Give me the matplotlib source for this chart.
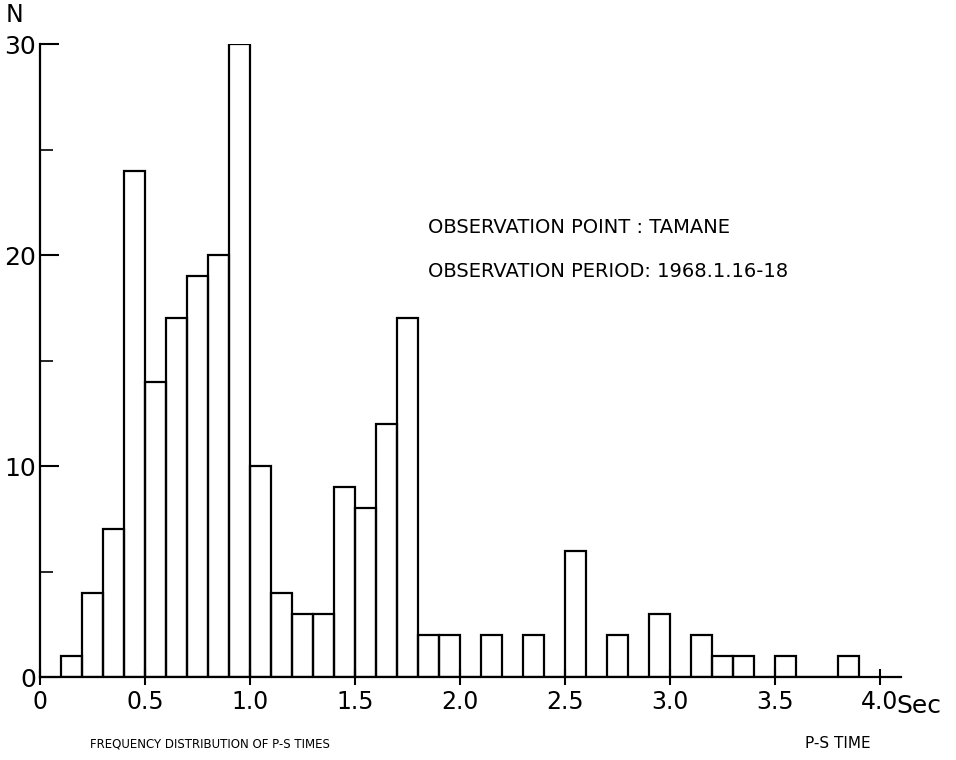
import matplotlib.pyplot as plt
from matplotlib.ticker import MultipleLocator

# P-S time bins (left edges, sec) and counts
bin_left = [0.1, 0.2, 0.3, 0.4, 0.5, 0.6, 0.7, 0.8, 0.9, 1.0,
            1.1, 1.2, 1.3, 1.4, 1.5, 1.6, 1.7, 1.8, 1.9, 2.0,
            2.1, 2.2, 2.3, 2.4, 2.5, 2.6, 2.7, 2.8, 2.9, 3.0,
            3.1, 3.2, 3.3, 3.4, 3.5, 3.6, 3.7, 3.8]
counts = [1, 4, 7, 24, 14, 17, 19, 20, 30, 10,
          4, 3, 3, 9, 8, 12, 17, 2, 2, 0,
          2, 0, 2, 0, 6, 0, 2, 0, 3, 0,
          2, 1, 1, 0, 1, 0, 0, 1]
x_ticks = [0, 0.5, 1.0, 1.5, 2.0, 2.5, 3.0, 3.5, 4.0]
x_labels = ['0', '0.5', '1.0', '1.5', '2.0', '2.5', '3.0', '3.5', '4.0']
y_ticks = [0, 10, 20, 30]

FONT = dict(family='DejaVu Sans')

fig = plt.figure(figsize=(9.56, 7.6), dpi=100)
ax = fig.add_axes([0.0418, 0.109, 0.9006, 0.833])

ax.bar(bin_left, counts, width=0.1, align='edge', fill=False,
       edgecolor='black', linewidth=1.6)

ax.set_xlim(0, 4.1)
ax.set_ylim(0, 30)
for side in ('top', 'right'):
    ax.spines[side].set_visible(False)
for side in ('left', 'bottom'):
    ax.spines[side].set_linewidth(1.6)

ax.set_xticks(x_ticks)
ax.set_xticklabels(x_labels, fontsize=17, **FONT)
ax.set_yticks(y_ticks)
ax.set_yticklabels([str(v) for v in y_ticks], fontsize=18, **FONT)
ax.yaxis.set_minor_locator(MultipleLocator(5))
ax.tick_params(axis='x', direction='inout', length=12, width=1.5, pad=3)
ax.tick_params(axis='y', which='major', direction='in', length=14, width=1.5, pad=3)
ax.tick_params(axis='y', which='minor', direction='in', length=9, width=1.2)

ax.text(-0.08, 30.8, 'N', fontsize=17, ha='right', va='bottom', **FONT)
ax.text(4.08, -0.8, 'Sec', fontsize=18, ha='left', va='top', **FONT)

ax.text(1.85, 21.3, 'OBSERVATION POINT : TAMANE', fontsize=14, ha='left', va='center', **FONT)
ax.text(1.85, 19.2, 'OBSERVATION PERIOD: 1968.1.16-18', fontsize=14, ha='left', va='center', **FONT)

fig.text(0.094, 0.012, 'FREQUENCY DISTRIBUTION OF P-S TIMES', fontsize=8.5, ha='left', va='bottom', **FONT)
fig.text(0.842, 0.012, 'P-S TIME', fontsize=11, ha='left', va='bottom', **FONT)

fig.savefig('out.png', dpi=100)
